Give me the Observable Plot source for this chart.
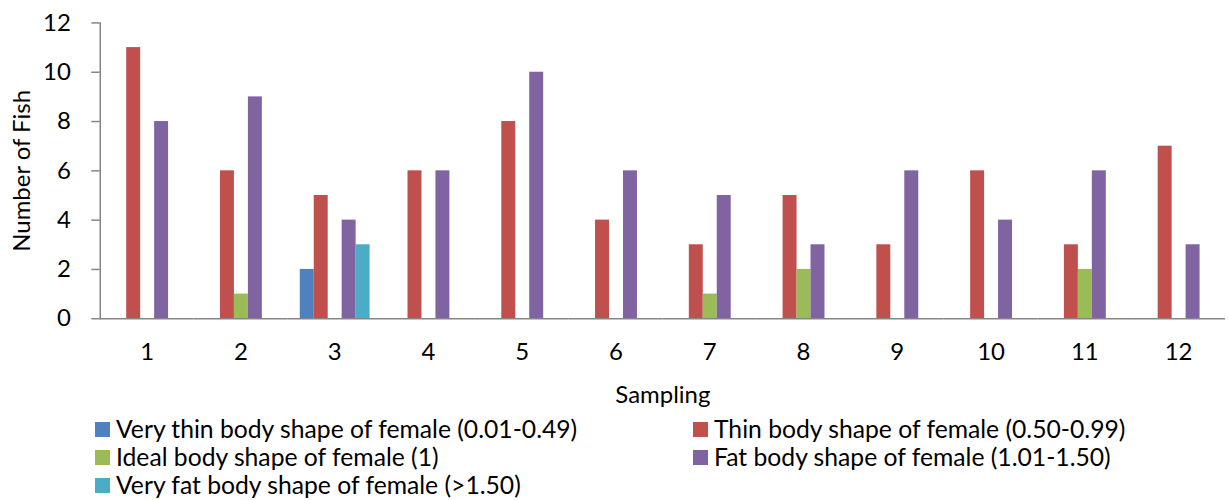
<!DOCTYPE html>
<html><head><meta charset="utf-8">
<script src="https://cdn.jsdelivr.net/npm/d3@7"></script>
<script src="https://cdn.jsdelivr.net/npm/@observablehq/plot@0.6"></script>
<style>
html,body{margin:0;padding:0;background:#fff;overflow:hidden;width:1228px;height:500px}
body{font-family:Lato, sans-serif}
#chart svg{display:block}
#legend{position:relative;height:90px;}
.item{position:absolute;display:flex;align-items:center;font-size:24.7px;line-height:28px;color:#000;white-space:nowrap}
.sw{width:15px;height:15px;margin-right:6px;flex:none}
</style></head><body><div id="chart"></div><div id="legend"></div>
<script>
const samplings = ["1","2","3","4","5","6","7","8","9","10","11","12"];
const seriesNames = [
  "Very thin body shape of female (0.01-0.49)",
  "Thin body shape of female (0.50-0.99)",
  "Ideal body shape of female (1)",
  "Fat body shape of female (1.01-1.50)",
  "Very fat body shape of female (>1.50)"
];
const seriesColors = ["#4F81BD","#C0504D","#9BBB59","#8064A2","#4BACC6"];
const veryThin = [0,0,2,0,0,0,0,0,0,0,0,0];
const thin     = [11,6,5,6,8,4,3,5,3,6,3,7];
const ideal    = [0,1,0,0,0,0,1,2,0,0,2,0];
const fat      = [8,9,4,6,10,6,5,3,6,4,6,3];
const veryFat  = [0,0,3,0,0,0,0,0,0,0,0,0];
const yTicks = [0,2,4,6,8,10,12];

const seriesValues = [veryThin, thin, ideal, fat, veryFat];
const data = [];
samplings.forEach((s, i) => {
  seriesNames.forEach((name, k) => {
    data.push({sampling: s, series: name, value: seriesValues[k][i]});
  });
});

const chart = Plot.plot({
  width: 1231,
  height: 410,
  marginLeft: 96.5,
  marginRight: 0,
  marginTop: 22.5,
  marginBottom: 91,
  style: {fontFamily: "Lato, sans-serif", fontSize: "23px", color: "#000", background: "#fff"},
  fx: {domain: samplings, padding: 0},
  x: {domain: seriesNames, paddingInner: 0, paddingOuter: 0.759, axis: null},
  y: {domain: [0, 12]},
  color: {domain: seriesNames, range: seriesColors},
  marks: [
    Plot.barY(data, {fx: "sampling", x: "series", y: "value", fill: "series", inset: 0}),
    Plot.ruleY([0], {stroke: "#868686", strokeWidth: 1.5}),
    Plot.frame({anchor: "left", facetAnchor: "left", stroke: "#868686", strokeWidth: 1.5}),
    Plot.axisY({ticks: yTicks, tickSize: 8.5, tickPadding: 21, stroke: "#868686", strokeWidth: 1.5,
      label: "Number of Fish", labelAnchor: "center", labelOffset: 87, labelArrow: false, fill: "#000", fontSize: 24}),
    Plot.axisFx({anchor: "bottom", tickSize: 0, tickPadding: 24, label: "Sampling",
      labelAnchor: "center", labelOffset: 84, fill: "#000", fontSize: 24})
  ]
});
document.getElementById("chart").appendChild(chart);

const legend = document.getElementById("legend");
const legendCols = [95, 693];
seriesNames.forEach((name, k) => {
  const item = document.createElement("div");
  item.className = "item";
  item.style.left = legendCols[k % 2] + "px";
  item.style.top = (6 + Math.floor(k / 2) * 28) + "px";
  const sw = document.createElement("span");
  sw.className = "sw";
  sw.style.background = seriesColors[k];
  const t = document.createElement("span");
  t.textContent = name;
  item.appendChild(sw);
  item.appendChild(t);
  legend.appendChild(item);
});
</script></body></html>
